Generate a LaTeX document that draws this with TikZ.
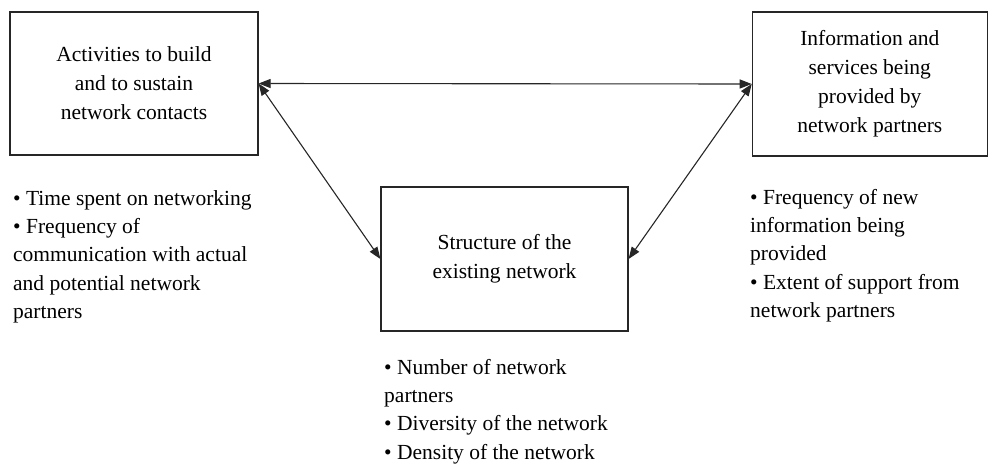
\documentclass[tikz,border=0pt]{standalone}
\usepackage{fontspec}
\setmainfont{Liberation Serif}
\usetikzlibrary{arrows.meta}

\begin{document}
\begin{tikzpicture}[x=1pt,y=-1pt,
    box/.style={draw=black!85, line width=1.2pt, align=center, inner sep=0pt, font=\fontsize{21.5}{29}\selectfont},
    list/.style={align=left, inner sep=0pt, anchor=north west, font=\fontsize{21.5}{28.3}\selectfont},
    link/.style={{Triangle[length=12pt,width=9pt]}-{Triangle[length=12pt,width=9pt]}, line width=1.1pt, draw=black!85}]
    \useasboundingbox (0,0) rectangle (988,464);
    % the three boxes
    \node[box, minimum width=248pt, minimum height=143pt] (act) at (134,83.5) {Activities to build\\and to sustain\\network contacts};
    \node[box, minimum width=235pt, minimum height=144pt] (info) at (869.8,84) {Information and\\services being\\provided by\\network partners};
    \node[box, minimum width=247pt, minimum height=144pt] (struct) at (504.5,259) {Structure of the\\existing network};
    % links
    \draw[link] (act.east) -- (info.west);
    \draw[link] (act.east) -- (struct.west);
    \draw[link] (info.west) -- (struct.east);
    % indicators
    \node[list] (actlist) at (13,190) {\textbullet{} Time spent on networking\\\textbullet{} Frequency of\\communication with actual\\and potential network\\partners};
    \node[list] (structlist) at (384,359) {\textbullet{} Number of network\\partners\\\textbullet{} Diversity of the network\\\textbullet{} Density of the network};
    \node[list] (infolist) at (750,189) {\textbullet{} Frequency of new\\information being\\provided\\\textbullet{} Extent of support from\\network partners};
\end{tikzpicture}
\end{document}
